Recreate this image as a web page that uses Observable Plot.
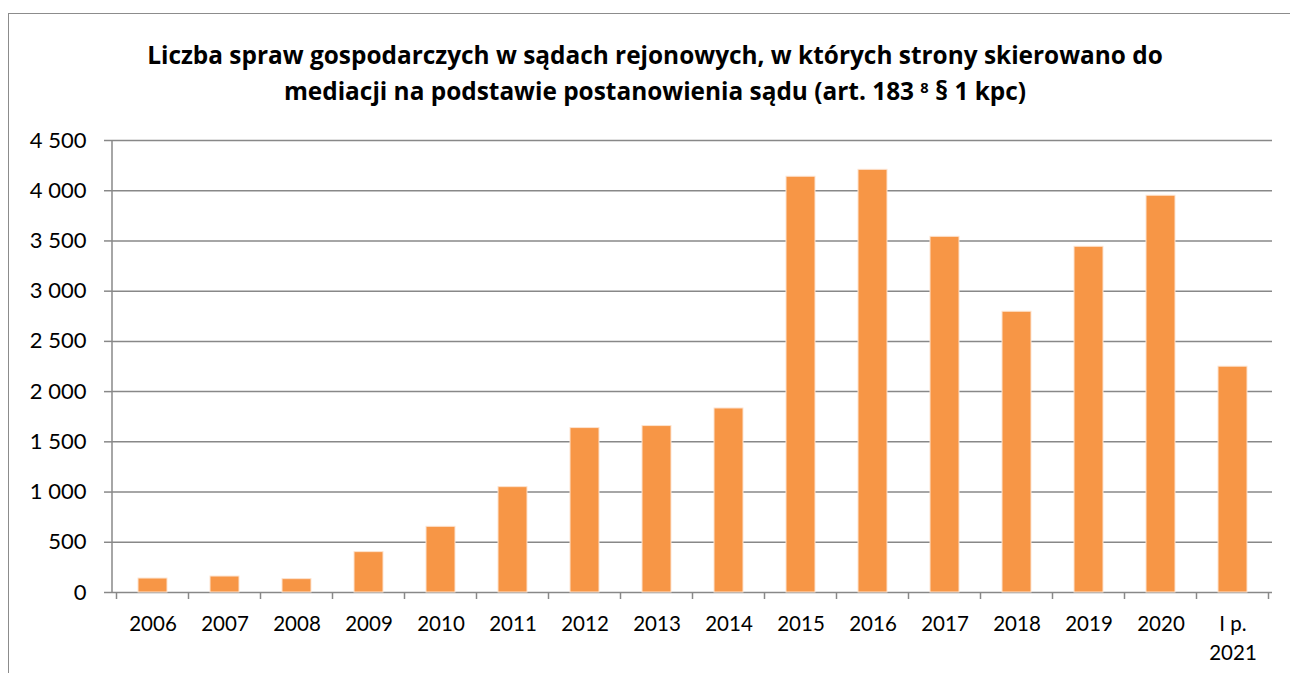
<!DOCTYPE html>
<html><head><meta charset="utf-8">
<script src="https://cdn.jsdelivr.net/npm/d3@7"></script>
<script src="https://cdn.jsdelivr.net/npm/@observablehq/plot@0.6"></script>
<style>
body{margin:0;background:#fff;}
#wrap{position:relative;width:1290px;height:673px;overflow:hidden;font-family:Lato,"Open Sans",sans-serif;background:#fff;}
#frame{position:absolute;left:8px;top:13px;width:1320px;height:720px;border:1.5px solid #8c8c8c;box-sizing:border-box;}
#title{position:absolute;left:0;width:1310px;top:37px;text-align:center;font-family:"Open Sans",sans-serif;font-weight:bold;font-size:24.4px;line-height:35px;color:#000;}
#title sup{font-size:0.6em;vertical-align:0.5em;line-height:0;}
#title .para{font-size:1.1em;}
#chart{position:absolute;left:0;top:120px;}
</style></head><body>
<div id="wrap">
  <div id="frame"></div>
  <div id="title">Liczba spraw gospodarczych w sądach rejonowych, w których strony skierowano do<br>mediacji na podstawie postanowienia sądu (art. 183 <sup>8</sup> <span class="para">§</span> 1 kpc)</div>
  <div id="chart"></div>
</div>
<script>
const categories = ["2006","2007","2008","2009","2010","2011","2012","2013","2014","2015","2016","2017","2018","2019","2020","I p.\n2021"];
const values = [139,159,133,402,654,1049,1637,1657,1832,4139,4208,3541,2795,3442,3950,2248];
const yTicks = [0,500,1000,1500,2000,2500,3000,3500,4000,4500];

const data = categories.map((c, i) => ({cat: c, value: values[i]}));
const fmt = d => d3.format(",")(d).replace(/,/g, "\u00a0");
const grid = "#888888";

function axisDecor(index, scales, vals, dims) {
  const x = scales.x, y = scales.y;
  const g = d3.create("svg:g").attr("stroke", grid).attr("stroke-width", 1.5);
  const step = x.step ? x.step() : (dims.width - dims.marginLeft - dims.marginRight) / categories.length;
  const bw = x.bandwidth ? x.bandwidth() : 0;
  const y0 = y(0);
  const bounds = categories.map(c => x(c) + bw / 2 - step / 2);
  bounds.push(bounds[bounds.length - 1] + step);
  for (const bx of bounds) {
    g.append("line").attr("x1", bx).attr("x2", bx).attr("y1", y0).attr("y2", y0 + 7);
  }
  g.append("line").attr("x1", dims.marginLeft).attr("x2", dims.marginLeft)
    .attr("y1", y(yTicks[yTicks.length - 1])).attr("y2", y0);
  return g.node();
}

const chart = Plot.plot({
  width: 1290,
  height: 553,
  marginTop: 20,
  marginBottom: 81,
  marginLeft: 112,
  marginRight: 18,
  style: {fontFamily: "Lato, 'Open Sans', sans-serif", background: "transparent", color: "#000"},
  x: {domain: categories, paddingInner: 0.6, paddingOuter: 0.3, label: null},
  y: {domain: [0, 4500], label: null},
  marks: [
    Plot.ruleY(yTicks, {stroke: grid, strokeWidth: 1.5}),
    Plot.barY(data, {x: "cat", y: "value", fill: "#F79646", stroke: "#fde3cf", strokeWidth: 1}),
    axisDecor,
    Plot.axisY({ticks: yTicks, tickFormat: fmt, tickSize: 8, tickPadding: 18, stroke: grid, strokeWidth: 1.5, fill: "#000", fontSize: 22, label: null}),
    Plot.axisX({tickSize: 0, tickPadding: 18, fill: "#000", fontSize: 20.5, lineHeight: 1.4, label: null})
  ]
});
document.getElementById("chart").appendChild(chart);
</script>
</body></html>
